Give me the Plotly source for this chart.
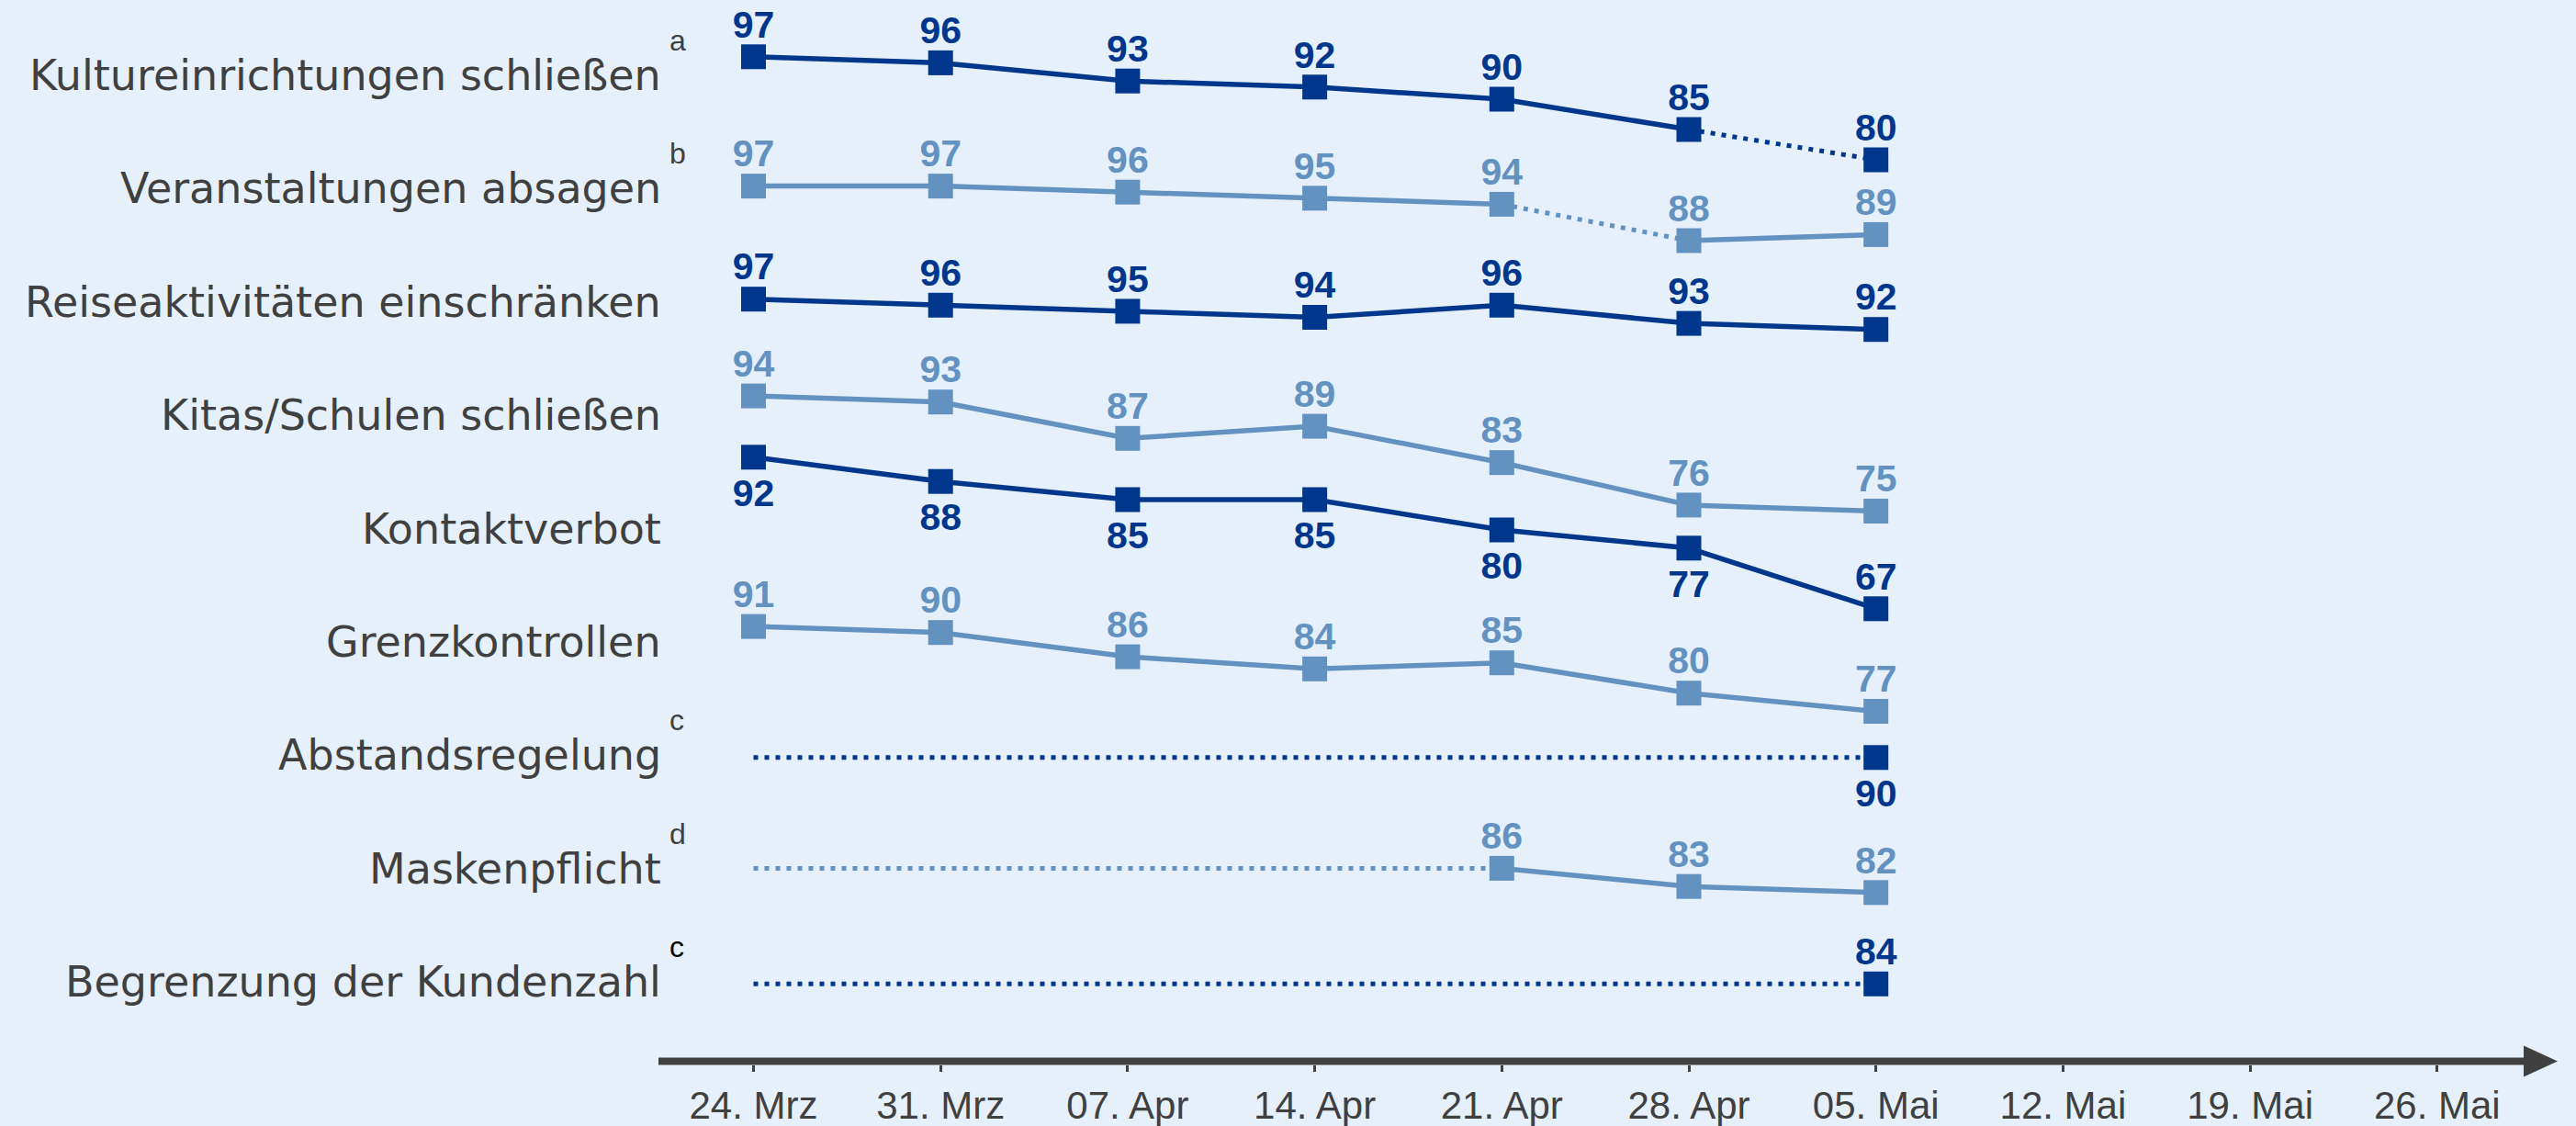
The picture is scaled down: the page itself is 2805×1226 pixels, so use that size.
import plotly.graph_objects as go
import pandas as pd

# ---------------- data ----------------
survey_dates = ["2020-03-24", "2020-03-31", "2020-04-07", "2020-04-14",
                "2020-04-21", "2020-04-28", "2020-05-05"]
tick_dates = survey_dates + ["2020-05-12", "2020-05-19", "2020-05-26"]
tick_labels = ["24. Mrz", "31. Mrz", "07. Apr", "14. Apr", "21. Apr",
               "28. Apr", "05. Mai", "12. Mai", "19. Mai", "26. Mai"]

measures = ["Kultureinrichtungen schließen", "Veranstaltungen absagen",
            "Reiseaktivitäten einschränken", "Kitas/Schulen schließen",
            "Kontaktverbot", "Grenzkontrollen", "Abstandsregelung",
            "Maskenpflicht", "Begrenzung der Kundenzahl"]
footnotes = ["a", "b", "", "", "", "", "c", "d", "c"]

kultur = [97, 96, 93, 92, 90, 85, 80]
veranstaltungen = [97, 97, 96, 95, 94, 88, 89]
reise = [97, 96, 95, 94, 96, 93, 92]
kitas = [94, 93, 87, 89, 83, 76, 75]
kontakt = [92, 88, 85, 85, 80, 77, 67]
grenz = [91, 90, 86, 84, 85, 80, 77]
abstand = [None, None, None, None, None, None, 90]
masken = [None, None, None, None, 86, 83, 82]
kunden = [None, None, None, None, None, None, 84]
series = [kultur, veranstaltungen, reise, kitas, kontakt, grenz, abstand, masken, kunden]

# segments (start index) drawn dotted
dotted_segments = [[5], [4], [], [], [], [], [], [], []]

# ---------------- styles / layout ----------------
DARK = "#00378C"
LIGHT = "#6392C1"
BG = "#E6F0FA"
GREY = "#404040"
row_colors = [DARK, LIGHT, DARK, LIGHT, DARK, LIGHT, DARK, LIGHT, DARK]
label_side = [["top"] * 7, ["top"] * 7, ["top"] * 7, ["top"] * 7,
              ["bottom"] * 6 + ["top"], ["top"] * 7, ["bottom"] * 7,
              ["top"] * 7, ["top"] * 7]
foot_colors = [GREY, GREY, GREY, GREY, GREY, GREY, GREY, GREY, "#000000"]
# invisible marker size that sets the distance of a value label from its point
label_gap_size = {"top": 16, "bottom": 34}

W, H = 2805, 1226
MB = 67
PH = H - MB                      # plot-area height in px
PX_PER_UNIT = 6.6                # vertical px per percentage point
# pixel y (from top) of the 100 % level of every row band
row_100_px = [42, 182.8, 305.9, 391.5, 445, 622.7, 758.8, 853, 965.7]
label_y_px = [82 + i * 123.4 for i in range(9)]
LABEL_RIGHT = 722
DAY_PX = 203.7 / 7
FIRST_X_PX = 820.5

t0 = pd.Timestamp(survey_dates[0])
x_start = t0 - pd.Timedelta(days=FIRST_X_PX / DAY_PX)
x_end = x_start + pd.Timedelta(days=W / DAY_PX)


def ppx(x):
    return x / W


def ppy(y):
    return 1 - y / PH


fig = go.Figure()

for i, vals in enumerate(series):
    yname = "y" if i == 0 else f"y{i + 1}"
    col = row_colors[i]
    valid = [j for j, v in enumerate(vals) if v is not None]
    sx, sy, dx, dy = [], [], [], []
    # dotted lead-in for rows starting later
    if valid[0] > 0:
        dx += [survey_dates[0], survey_dates[valid[0]], None]
        dy += [vals[valid[0]], vals[valid[0]], None]
    for a, b in zip(valid[:-1], valid[1:]):
        seg_x = [survey_dates[a], survey_dates[b], None]
        seg_y = [vals[a], vals[b], None]
        if a in dotted_segments[i]:
            dx += seg_x
            dy += seg_y
        else:
            sx += seg_x
            sy += seg_y
    if sx:
        fig.add_trace(go.Scatter(x=sx, y=sy, yaxis=yname, mode="lines",
                                 line=dict(color=col, width=5.5),
                                 hoverinfo="skip"))
    if dx:
        fig.add_trace(go.Scatter(x=dx, y=dy, yaxis=yname, mode="lines",
                                 line=dict(color=col, width=5, dash="5px,7px"),
                                 hoverinfo="skip"))
    px_x = [survey_dates[j] for j in valid]
    px_y = [vals[j] for j in valid]
    fig.add_trace(go.Scatter(
        x=px_x, y=px_y, yaxis=yname, mode="markers",
        marker=dict(symbol="square", size=27, color=col, line=dict(width=0)),
        cliponaxis=False,
    ))
    fig.add_trace(go.Scatter(
        x=px_x, y=px_y, yaxis=yname, mode="markers+text",
        marker=dict(size=[label_gap_size[label_side[i][j]] for j in valid],
                    color="rgba(0,0,0,0)", line=dict(width=0)),
        text=[str(vals[j]) for j in valid],
        textposition=[label_side[i][j] + " center" for j in valid],
        textfont=dict(family="Liberation Sans, Arial, sans-serif", size=41,
                      color=col, weight="bold"),
        cliponaxis=False, hoverinfo="skip",
    ))

layout = dict(
    width=W, height=H,
    margin=dict(l=0, r=0, t=0, b=MB, pad=0),
    paper_bgcolor=BG, plot_bgcolor=BG,
    showlegend=False,
    xaxis=dict(type="date", range=[x_start, x_end],
               tickvals=tick_dates, ticktext=tick_labels,
               ticks="outside", ticklen=7, tickwidth=3, tickcolor=GREY,
               tickfont=dict(family="Liberation Sans, Arial, sans-serif",
                             size=42, color=GREY),
               ticklabelstandoff=1,
               showgrid=False, zeroline=False, showline=False,
               automargin=False, fixedrange=True),
)
for i in range(9):
    key = "yaxis" if i == 0 else f"yaxis{i + 1}"
    top_val = 100 + row_100_px[i] / PX_PER_UNIT
    bot_val = top_val - PH / PX_PER_UNIT
    ax = dict(range=[bot_val, top_val], visible=False, fixedrange=True)
    if i > 0:
        ax["overlaying"] = "y"
    layout[key] = ax
fig.update_layout(**layout)

# row labels and footnote letters
for i, name in enumerate(measures):
    fig.add_annotation(x=ppx(LABEL_RIGHT), y=ppy(label_y_px[i]),
                       xref="paper", yref="paper", xanchor="right",
                       yanchor="middle", text=name, showarrow=False,
                       font=dict(family="DejaVu Sans, sans-serif", size=46,
                                 color=GREY))
    if footnotes[i]:
        fig.add_annotation(x=ppx(LABEL_RIGHT + 5), y=ppy(label_y_px[i] - 18),
                           xref="paper", yref="paper", xanchor="left",
                           yanchor="bottom", text=footnotes[i],
                           showarrow=False,
                           font=dict(family="Liberation Sans, Arial, sans-serif",
                                     size=32, color=foot_colors[i]))

# time axis with arrow
AX_Y = 1155.5
fig.add_shape(type="line", xref="paper", yref="paper",
              x0=ppx(717), x1=ppx(2752), y0=ppy(AX_Y), y1=ppy(AX_Y),
              line=dict(color=GREY, width=8))
fig.add_shape(type="path", xref="paper", yref="paper",
              path=f"M {ppx(2748)} {ppy(AX_Y - 17)} L {ppx(2785)} {ppy(AX_Y)} "
                   f"L {ppx(2748)} {ppy(AX_Y + 17)} Z",
              fillcolor=GREY, line=dict(width=0))

fig.write_html("out.html", config={"displayModeBar": False},
               post_script="document.body.style.margin='0';"
                           "document.body.style.overflow='hidden';")
